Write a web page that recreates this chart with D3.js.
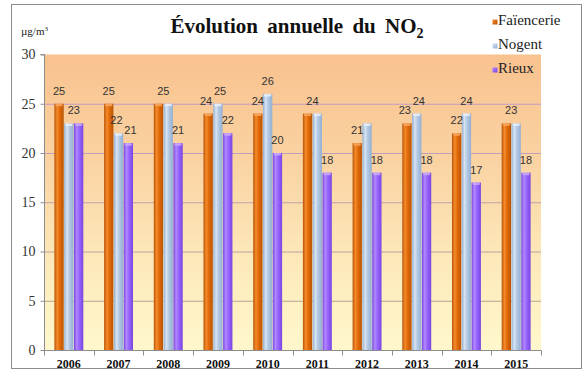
<!DOCTYPE html>
<html>
<head>
<meta charset="utf-8">
<script src="https://cdn.jsdelivr.net/npm/d3@7"></script>
<style>
  html, body { margin: 0; padding: 0; background: #fff; }
  svg { display: block; }
</style>
</head>
<body>
<div id="chart"></div>
<script>
// Annual NO2 averages (µg/m³) at three monitoring stations
const years = ["2006", "2007", "2008", "2009", "2010", "2011", "2012", "2013", "2014", "2015"];
const seriesNames = ["Faïencerie", "Nogent", "Rieux"];
const faiencerie = [25, 25, 25, 24, 24, 24, 21, 23, 22, 23];
const nogent     = [23, 22, 25, 25, 26, 24, 23, 24, 24, 23];
const rieux      = [23, 21, 21, 22, 20, 18, 18, 18, 17, 18];
const yTicks = [0, 5, 10, 15, 20, 25, 30];
// value labels that are not shown on the chart
const hiddenLabels = [["Nogent", "2012"]];

const W = 586, H = 372;
const margin = { left: 44, right: 45, top: 54.5, bottom: 22 };
const serif = "'Liberation Serif', 'Times New Roman', serif";
const sans = "'Liberation Sans', Arial, sans-serif";

const seriesValues = { "Faïencerie": faiencerie, "Nogent": nogent, "Rieux": rieux };
const seriesColors = {
  "Faïencerie": { dark: "#b95406", mid: "#e46c0a", light: "#f48b2c", cap: "#f7a862" },
  "Nogent":     { dark: "#93afd2", mid: "#b4c9e4", light: "#d8e4f2", cap: "#e8eef8" },
  "Rieux":      { dark: "#7a45e0", mid: "#9966ff", light: "#b189ff", cap: "#c8aaff" }
};

const svg = d3.select("#chart").append("svg")
  .attr("width", W).attr("height", H);

const defs = svg.append("defs");

// plot background: peach at the top fading to pale yellow
const bg = defs.append("linearGradient").attr("id", "plotBg")
  .attr("x1", 0).attr("y1", 0).attr("x2", 0).attr("y2", 1);
bg.append("stop").attr("offset", "0%").attr("stop-color", "#f8c28e");
bg.append("stop").attr("offset", "35%").attr("stop-color", "#fad2a2");
bg.append("stop").attr("offset", "70%").attr("stop-color", "#fde9ba");
bg.append("stop").attr("offset", "100%").attr("stop-color", "#fff8cc");

// cylinder-like shading for each series
seriesNames.forEach((s, i) => {
  const c = seriesColors[s];
  const g = defs.append("linearGradient").attr("id", "bar" + i)
    .attr("x1", 0).attr("y1", 0).attr("x2", 1).attr("y2", 0);
  g.append("stop").attr("offset", "0%").attr("stop-color", c.dark);
  g.append("stop").attr("offset", "30%").attr("stop-color", c.light);
  g.append("stop").attr("offset", "55%").attr("stop-color", c.mid);
  g.append("stop").attr("offset", "100%").attr("stop-color", c.dark);
  const m = defs.append("linearGradient").attr("id", "mark" + i)
    .attr("x1", 0).attr("y1", 0).attr("x2", 1).attr("y2", 1);
  m.append("stop").attr("offset", "0%").attr("stop-color", c.light);
  m.append("stop").attr("offset", "100%").attr("stop-color", c.dark);
});

// outer frame
svg.append("rect")
  .attr("x", 11.5).attr("y", 4.5).attr("width", 570).attr("height", 364)
  .attr("fill", "#fff").attr("stroke", "#8c8c8c").attr("stroke-width", 1);

const x0 = d3.scaleBand().domain(years)
  .range([margin.left, W - margin.right]).padding(0);
const x1 = d3.scaleBand().domain(seriesNames)
  .range([0, x0.bandwidth()]).paddingInner(0.05).paddingOuter(1.06);
const y = d3.scaleLinear().domain([0, 30]).range([H - margin.bottom, margin.top]);

const plotL = margin.left, plotR = W - margin.right;

// plot area
svg.append("rect")
  .attr("x", plotL).attr("y", y(30))
  .attr("width", plotR - plotL).attr("height", y(0) - y(30))
  .attr("fill", "url(#plotBg)");

// gridlines: tinted lilac on the peach band, greyish lower down
const gridColor = d3.scaleLinear().domain([25, 5]).range(["#c39cc6", "#b3a892"]);
svg.append("g").selectAll("line")
  .data(yTicks.filter(t => t > 0 && t < 30))
  .join("line")
  .attr("x1", plotL).attr("x2", plotR)
  .attr("y1", d => y(d) + 0.5).attr("y2", d => y(d) + 0.5)
  .attr("stroke", d => gridColor(d)).attr("stroke-width", 1);

// bars
const barData = [];
years.forEach((yr, yi) => {
  seriesNames.forEach((s, si) => {
    barData.push({ year: yr, series: s, si, value: seriesValues[s][yi] });
  });
});

const bars = svg.append("g");
bars.selectAll("rect.bar")
  .data(barData)
  .join("rect")
  .attr("class", "bar")
  .attr("x", d => x0(d.year) + x1(d.series))
  .attr("y", d => y(d.value))
  .attr("width", x1.bandwidth())
  .attr("height", d => y(0) - y(d.value))
  .attr("fill", d => "url(#bar" + d.si + ")");
// lighter top cap
bars.selectAll("rect.cap")
  .data(barData)
  .join("rect")
  .attr("class", "cap")
  .attr("x", d => x0(d.year) + x1(d.series) + 1)
  .attr("y", d => y(d.value))
  .attr("width", x1.bandwidth() - 2)
  .attr("height", 2.5)
  .attr("rx", 1.2)
  .attr("fill", d => seriesColors[d.series].cap)
  .attr("opacity", 0.85);

// axes
const yAxis = d3.axisLeft(y).tickValues(yTicks).tickSize(4).tickPadding(5);
const gy = svg.append("g").attr("transform", `translate(${plotL + 0.5},0)`).call(yAxis);
gy.select(".domain").attr("stroke", "#8c8c8c").attr("d", `M-4,${y(30)}H0V${y(0)}`);
gy.selectAll(".tick line").attr("stroke", "#8c8c8c");
gy.selectAll(".tick text")
  .attr("font-family", serif).attr("font-size", 14).attr("fill", "#333");

const gx = svg.append("g").attr("transform", `translate(0,${y(0) + 0.5})`);
gx.append("line")
  .attr("x1", plotL).attr("x2", plotR)
  .attr("stroke", "#8c8c8c");
const boundaries = years.map(yr => x0(yr)).concat([plotR]);
gx.selectAll("line.tick")
  .data(boundaries)
  .join("line")
  .attr("class", "tick")
  .attr("x1", d => Math.round(d) + 0.5).attr("x2", d => Math.round(d) + 0.5)
  .attr("y1", 0).attr("y2", 5)
  .attr("stroke", "#8c8c8c");
gx.selectAll("text")
  .data(years)
  .join("text")
  .attr("x", d => x0(d) + x0.bandwidth() / 2)
  .attr("y", 17)
  .attr("text-anchor", "middle")
  .attr("font-family", serif).attr("font-size", 12).attr("font-weight", "bold")
  .attr("fill", "#111")
  .text(d => d);

// value labels, nudged apart when they would overlap within a year
const labelW = 13, labelH = 11;
const labels = [];
years.forEach(yr => {
  let group = barData.filter(d => d.year === yr &&
      !hiddenLabels.some(h => h[0] === d.series && h[1] === yr))
    .map(d => ({
      text: String(d.value),
      x: x0(yr) + x1(d.series) + x1.bandwidth() / 2,
      cy: y(d.value) - 13
    }));
  // identical neighbouring labels share one position
  const merged = [];
  group.forEach(l => {
    const prev = merged[merged.length - 1];
    if (prev && prev.text === l.text && Math.abs(prev.cy - l.cy) < 1) {
      prev.x = (prev.x + l.x) / 2;
    } else {
      merged.push({ ...l });
    }
  });
  for (let i = 0; i < merged.length - 1; i++) {
    const a = merged[i], b = merged[i + 1];
    const dx = b.x - a.x, dy = Math.abs(b.cy - a.cy);
    if (dy < labelH && dx < labelW) {
      const push = (labelW - dx) / 2 + 0.5;
      a.x -= push; b.x += push;
    }
  }
  labels.push(...merged);
});
svg.append("g").selectAll("text")
  .data(labels)
  .join("text")
  .attr("x", d => d.x)
  .attr("y", d => d.cy + 4)
  .attr("text-anchor", "middle")
  .attr("font-family", sans).attr("font-size", 11)
  .attr("fill", "#333")
  .text(d => d.text);

// unit
svg.append("text")
  .attr("x", 21).attr("y", 35)
  .attr("font-family", serif).attr("font-size", 11).attr("fill", "#222")
  .html("µg/m<tspan dy='-4' font-size='7'>3</tspan>");

// title
const title = svg.append("text")
  .attr("x", 297).attr("y", 33)
  .attr("text-anchor", "middle")
  .attr("font-family", serif).attr("font-size", 21).attr("font-weight", "bold")
  .attr("word-spacing", 4)
  .attr("fill", "#111");
title.append("tspan").text("Évolution annuelle du NO");
title.append("tspan").attr("dy", 5).attr("font-size", 14).text("2");

// legend
const legend = svg.append("g");
seriesNames.forEach((s, i) => {
  const base = 25 + i * 24;
  legend.append("rect")
    .attr("x", 492.5).attr("y", base - 5.5).attr("width", 5).attr("height", 5)
    .attr("fill", "url(#mark" + i + ")");
  legend.append("text")
    .attr("x", 498).attr("y", base)
    .attr("font-family", serif).attr("font-size", 15).attr("fill", "#222")
    .text(s);
});
</script>
</body>
</html>
